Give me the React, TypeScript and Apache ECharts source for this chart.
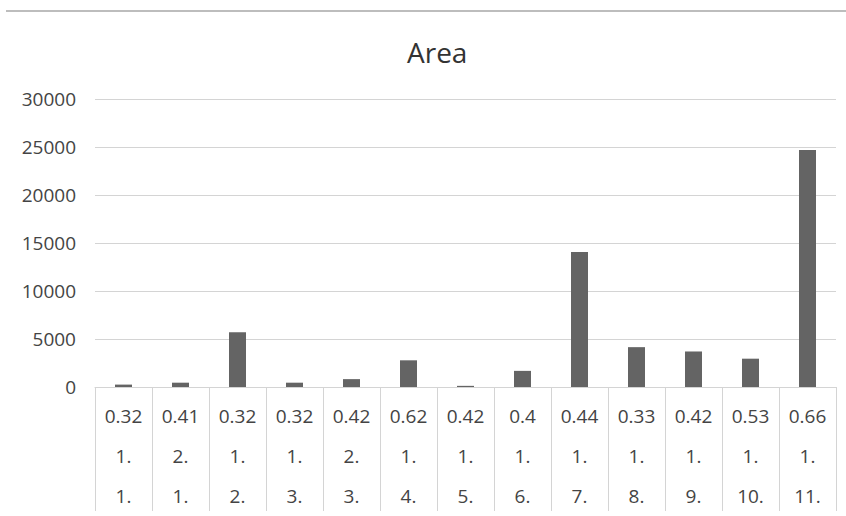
import React, { useEffect, useRef } from "react";
import * as echarts from "echarts";

const ratioLabels = ["0.32", "0.41", "0.32", "0.32", "0.42", "0.62", "0.42", "0.4", "0.44", "0.33", "0.42", "0.53", "0.66"];
const groupLabels = ["1.", "2.", "1.", "1.", "2.", "1.", "1.", "1.", "1.", "1.", "1.", "1.", "1."];
const indexLabels = ["1.", "1.", "2.", "3.", "3.", "4.", "5.", "6.", "7.", "8.", "9.", "10.", "11."];
const areaValues = [250, 450, 5700, 450, 820, 2780, 120, 1680, 14050, 4150, 3700, 2950, 24700];
const yTicks = { min: 0, max: 30000, interval: 5000 };

export default function App() {
  const ref = useRef<HTMLDivElement>(null);
  useEffect(() => {
    if (!ref.current) return;
    const chart = echarts.init(ref.current, undefined, { renderer: "svg" });
    const categories = ratioLabels.map((r, i) => `${r}\n${groupLabels[i]}\n${indexLabels[i]}`);
    chart.setOption({
      animation: false,
      backgroundColor: "#ffffff",
      textStyle: { fontFamily: "Open Sans" },
      title: {
        text: "Area",
        left: 402,
        top: 33,
        textStyle: { fontFamily: "Open Sans", fontSize: 28, fontWeight: "normal", color: "#333333" },
      },
      graphic: [
        {
          type: "line",
          shape: { x1: 6, y1: 11, x2: 846, y2: 11 },
          style: { stroke: "#bdbdbd", lineWidth: 2 },
        },
      ],
      grid: { left: 95, right: 10, top: 99, bottom: 128.5, containLabel: false },
      xAxis: {
        type: "category",
        data: categories,
        boundaryGap: true,
        axisLine: { show: true, lineStyle: { color: "#d4d4d4", width: 1 } },
        axisTick: { show: true, interval: 0, length: 124, lineStyle: { color: "#d4d4d4" } },
        axisLabel: {
          interval: 0,
          margin: 9,
          lineHeight: 40,
          fontSize: 19,
          color: "#444444",
          fontFamily: "Open Sans",
        },
      },
      yAxis: {
        type: "value",
        min: yTicks.min,
        max: yTicks.max,
        interval: yTicks.interval,
        axisLine: { show: false },
        axisTick: { show: false },
        splitLine: { lineStyle: { color: "#d4d4d4", width: 1 } },
        axisLabel: {
          fontSize: 19,
          color: "#444444",
          margin: 19,
          fontFamily: "Open Sans",
          formatter: (v: number) => String(v),
        },
      },
      series: [
        {
          type: "bar",
          data: areaValues,
          barWidth: 17,
          itemStyle: { color: "#646464" },
        },
      ],
    });
    return () => chart.dispose();
  }, []);
  return <div ref={ref} style={{ position: "fixed", left: 0, top: 0, width: 846, height: 516 }} />;
}
